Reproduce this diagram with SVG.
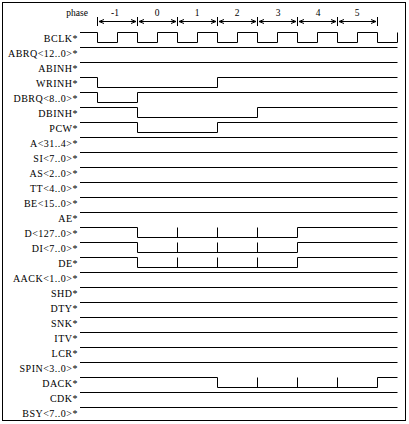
<svg xmlns="http://www.w3.org/2000/svg" width="409" height="424" viewBox="0 0 409 424">
<style>
.w{fill:none;stroke:#000;stroke-width:1}
.l{font-family:"Liberation Serif","Times New Roman",serif;font-size:10px;letter-spacing:0.5px;text-anchor:end;fill:#000}
.n{font-family:"Liberation Serif","Times New Roman",serif;font-size:9.5px;text-anchor:middle;fill:#000}
</style>
<defs>
<marker id="ah" markerWidth="6" markerHeight="6" refX="5" refY="3" orient="auto-start-reverse" markerUnits="userSpaceOnUse">
<path d="M0,1 L5,3 L0,5" fill="none" stroke="#000" stroke-width="1"/>
</marker>
</defs>
<rect x="2.5" y="2.5" width="403" height="418" fill="#fff" stroke="#000" stroke-width="1"/>
<g id="phase-ruler">
<text x="88" y="16" class="l" style="font-size:9.5px;letter-spacing:0">phase</text>
<path class="w" d="M97.5,17 V26 M137.5,17 V26 M177.5,17 V26 M217.5,17 V26 M257.5,17 V26 M297.5,17 V26 M337.5,17 V26 M377.5,17 V26"/>
<line class="w" x1="99" y1="21.5" x2="136" y2="21.5" marker-start="url(#ah)" marker-end="url(#ah)"/>
<line class="w" x1="139" y1="21.5" x2="176" y2="21.5" marker-start="url(#ah)" marker-end="url(#ah)"/>
<line class="w" x1="179" y1="21.5" x2="216" y2="21.5" marker-start="url(#ah)" marker-end="url(#ah)"/>
<line class="w" x1="219" y1="21.5" x2="256" y2="21.5" marker-start="url(#ah)" marker-end="url(#ah)"/>
<line class="w" x1="259" y1="21.5" x2="296" y2="21.5" marker-start="url(#ah)" marker-end="url(#ah)"/>
<line class="w" x1="299" y1="21.5" x2="336" y2="21.5" marker-start="url(#ah)" marker-end="url(#ah)"/>
<line class="w" x1="339" y1="21.5" x2="376" y2="21.5" marker-start="url(#ah)" marker-end="url(#ah)"/>
<text x="115" y="16" class="n">-1</text>
<text x="157" y="16" class="n">0</text>
<text x="197" y="16" class="n">1</text>
<text x="237" y="16" class="n">2</text>
<text x="278" y="16" class="n">3</text>
<text x="318" y="16" class="n">4</text>
<text x="357" y="16" class="n">5</text>
</g>
<g id="BCLK"><text x="78" y="41.5" class="l">BCLK*</text><path class="w" d="M80,32.5 H97.5 V42.5 H117.5 V32.5 H137.5 V42.5 H157.5 V32.5 H177.5 V42.5 H197.5 V32.5 H217.5 V42.5 H237.5 V32.5 H257.5 V42.5 H277.5 V32.5 H297.5 V42.5 H317.5 V32.5 H337.5 V42.5 H357.5 V32.5 H377.5 V42.5 H397.5 V32.5"/></g>
<g id="ABRQ"><text x="78" y="56.5" class="l">ABRQ&lt;12..0&gt;*</text><path class="w" d="M80,47.5 H397.5"/></g>
<g id="ABINH"><text x="78" y="71.5" class="l">ABINH*</text><path class="w" d="M80,62.5 H397.5"/></g>
<g id="WRINH"><text x="78" y="86.5" class="l">WRINH*</text><path class="w" d="M80,77.5 H97.5 V87.5 H217.5 V77.5 H397.5"/></g>
<g id="DBRQ"><text x="78" y="101.5" class="l">DBRQ&lt;8..0&gt;*</text><path class="w" d="M80,92.5 H97.5 V102.5 H137.5 V92.5 H397.5"/></g>
<g id="DBINH"><text x="78" y="116.5" class="l">DBINH*</text><path class="w" d="M80,107.5 H137.5 V117.5 H257.5 V107.5 H397.5"/></g>
<g id="PCW"><text x="78" y="131.5" class="l">PCW*</text><path class="w" d="M80,122.5 H137.5 V132.5 H217.5 V122.5 H397.5"/></g>
<g id="A"><text x="78" y="146.5" class="l">A&lt;31..4&gt;*</text><path class="w" d="M80,137.5 H397.5"/></g>
<g id="SI"><text x="78" y="161.5" class="l">SI&lt;7..0&gt;*</text><path class="w" d="M80,152.5 H397.5"/></g>
<g id="AS"><text x="78" y="176.5" class="l">AS&lt;2..0&gt;*</text><path class="w" d="M80,167.5 H397.5"/></g>
<g id="TT"><text x="78" y="191.5" class="l">TT&lt;4..0&gt;*</text><path class="w" d="M80,182.5 H397.5"/></g>
<g id="BE"><text x="78" y="206.5" class="l">BE&lt;15..0&gt;*</text><path class="w" d="M80,197.5 H397.5"/></g>
<g id="AE"><text x="78" y="221.5" class="l">AE*</text><path class="w" d="M80,212.5 H397.5"/></g>
<g id="D"><text x="78" y="236.5" class="l">D&lt;127..0&gt;*</text><path class="w" d="M80,227.5 H137.5 V237.5 H297.5 V227.5 H397.5 M177.5,227.5 V237.5 M217.5,227.5 V237.5 M257.5,227.5 V237.5"/></g>
<g id="DI"><text x="78" y="251.5" class="l">DI&lt;7..0&gt;*</text><path class="w" d="M80,242.5 H137.5 V252.5 H297.5 V242.5 H397.5 M177.5,242.5 V252.5 M217.5,242.5 V252.5 M257.5,242.5 V252.5"/></g>
<g id="DE"><text x="78" y="266.5" class="l">DE*</text><path class="w" d="M80,257.5 H137.5 V267.5 H297.5 V257.5 H397.5 M177.5,257.5 V267.5 M217.5,257.5 V267.5 M257.5,257.5 V267.5"/></g>
<g id="AACK"><text x="78" y="281.5" class="l">AACK&lt;1..0&gt;*</text><path class="w" d="M80,272.5 H397.5"/></g>
<g id="SHD"><text x="78" y="296.5" class="l">SHD*</text><path class="w" d="M80,287.5 H397.5"/></g>
<g id="DTY"><text x="78" y="311.5" class="l">DTY*</text><path class="w" d="M80,302.5 H397.5"/></g>
<g id="SNK"><text x="78" y="326.5" class="l">SNK*</text><path class="w" d="M80,317.5 H397.5"/></g>
<g id="ITV"><text x="78" y="341.5" class="l">ITV*</text><path class="w" d="M80,332.5 H397.5"/></g>
<g id="LCR"><text x="78" y="356.5" class="l">LCR*</text><path class="w" d="M80,347.5 H397.5"/></g>
<g id="SPIN"><text x="78" y="371.5" class="l">SPIN&lt;3..0&gt;*</text><path class="w" d="M80,362.5 H397.5"/></g>
<g id="DACK"><text x="78" y="386.5" class="l">DACK*</text><path class="w" d="M80,377.5 H217.5 V387.5 H377.5 V377.5 H397.5 M257.5,377.5 V387.5 M297.5,377.5 V387.5 M337.5,377.5 V387.5"/></g>
<g id="CDK"><text x="78" y="401.5" class="l">CDK*</text><path class="w" d="M80,392.5 H397.5"/></g>
<g id="BSY"><text x="78" y="416.5" class="l">BSY&lt;7..0&gt;*</text><path class="w" d="M80,407.5 H397.5"/></g>
</svg>
